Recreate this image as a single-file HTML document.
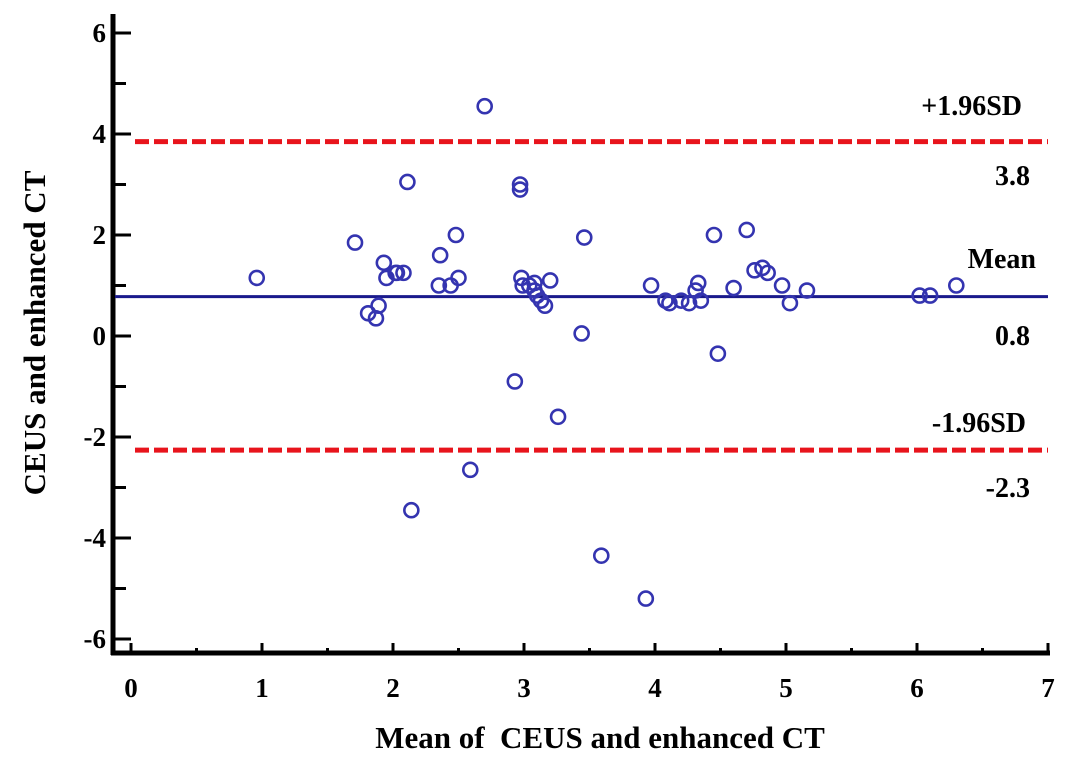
<!DOCTYPE html>
<html><head><meta charset="utf-8"><style>
html,body{margin:0;padding:0;background:#fff;}
svg{display:block;font-family:"Liberation Serif",serif;font-weight:bold;}
</style></head><body>
<svg id="chart" width="1087" height="761" viewBox="0 0 1087 761"></svg>
<script>
const xs = [0.96,1.71,1.93,2.02,1.95,2.03,2.08,1.81,1.87,1.89,2.11,2.14,2.36,2.35,2.44,2.48,2.5,2.59,2.7,2.97,2.97,2.93,2.98,2.99,3.04,3.08,3.1,3.13,3.16,3.08,3.2,3.26,3.44,3.46,3.59,3.93,3.97,4.08,4.11,4.2,4.26,4.31,4.35,4.33,4.45,4.48,4.6,4.7,4.76,4.82,4.86,4.97,5.03,5.16,6.02,6.1,6.3];
const ys = [1.15,1.85,1.45,1.25,1.15,1.25,1.25,0.45,0.35,0.6,3.05,-3.45,1.6,1.0,1.0,2.0,1.15,-2.65,4.55,3.0,2.9,-0.9,1.15,1.0,1.0,0.9,0.8,0.7,0.6,1.05,1.1,-1.6,0.05,1.95,-4.35,-5.2,1.0,0.7,0.65,0.7,0.65,0.9,0.7,1.05,2.0,-0.35,0.95,2.1,1.3,1.35,1.25,1.0,0.65,0.9,0.8,0.8,1.0];
const meanVal = [0.78];
const upperVal = [3.85];
const lowerVal = [-2.26];
const printedLabels = ['3.8','0.8','-2.3'];
const xTicks = [0,1,2,3,4,5,6,7];
const yTicks = [6,4,2,0,-2,-4,-6];

const NS="http://www.w3.org/2000/svg";
const svg=document.getElementById('chart');
const X0=131, XS=131, Y0=336, YS=50.5;
const sx=v=>X0+v*XS, sy=v=>Y0-v*YS;
function mk(t,a,p){const e=document.createElementNS(NS,t);for(const k in a)e.setAttribute(k,a[k]);(p||svg).appendChild(e);return e;}

let ax=mk('line',{x1:113,y1:14,x2:113,y2:655,stroke:'#000','stroke-width':5});


ax=mk('line',{x1:111,y1:653,x2:1050,y2:653,stroke:'#000','stroke-width':5});



yTicks.forEach(v=>{
  const t=mk('line',{x1:113,y1:sy(v),x2:131,y2:sy(v),stroke:'#000','stroke-width':3});
  
  
  if(v>-6){const m=mk('line',{x1:113,y1:sy(v-1),x2:126,y2:sy(v-1),stroke:'#000','stroke-width':3});
  
  }
  const l=mk('text',{x:106,y:sy(v)+9,'text-anchor':'end','font-size':27});
  l.textContent=v;
  
  
});
xTicks.forEach(v=>{
  const t=mk('line',{x1:sx(v),y1:653,x2:sx(v),y2:643,stroke:'#000','stroke-width':3});
  
  
  if(v<7){const m=mk('line',{x1:sx(v+0.5),y1:653,x2:sx(v+0.5),y2:648,stroke:'#000','stroke-width':3});
  
  }
  const l=mk('text',{x:sx(v),y:697,'text-anchor':'middle','font-size':27});
  l.textContent=v;
  
  
});

let ln=mk('line',{x1:135,y1:sy(upperVal[0]),x2:1048,y2:sy(upperVal[0]),stroke:'#e8141c','stroke-width':5,'stroke-dasharray':'14 5'});


ln=mk('line',{x1:115,y1:sy(meanVal[0]),x2:1048,y2:sy(meanVal[0]),stroke:'#1a1a8c','stroke-width':3});


ln=mk('line',{x1:135,y1:sy(lowerVal[0]),x2:1048,y2:sy(lowerVal[0]),stroke:'#e8141c','stroke-width':5,'stroke-dasharray':'14 5'});



xs.forEach((x,i)=>{
  const c=mk('circle',{cx:sx(x),cy:sy(ys[i]),r:7,fill:'none',stroke:'#3434b0','stroke-width':2.6});
  
  
});

function lab(txt,x,y,name,anchor){const t=mk('text',{x:x,y:y,'text-anchor':anchor||'end','font-size':28});t.textContent=txt;

}
lab('+1.96SD',1022,115,'upper-limit-label');
lab(printedLabels[0],1030,185,'upper-limit-value');
lab('Mean',1036,268,'mean-label');
lab(printedLabels[1],1030,345,'mean-value');
lab('-1.96SD',1026,432,'lower-limit-label');
lab(printedLabels[2],1030,497,'lower-limit-value');

let tt=mk('text',{x:600,y:748,'text-anchor':'middle','font-size':31});
tt.textContent='Mean of  CEUS and enhanced CT';


tt.setAttribute('xml:space','preserve');
tt.style.whiteSpace='pre';
tt=mk('text',{x:0,y:0,'text-anchor':'middle','font-size':31,transform:'translate(45,333) rotate(-90)'});
tt.textContent='CEUS and enhanced CT';


</script>
</body></html>
